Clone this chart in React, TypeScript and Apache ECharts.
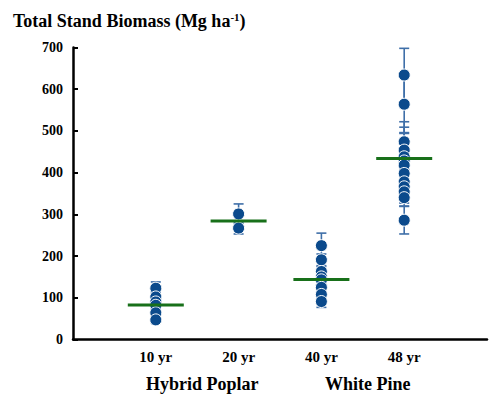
import React, { useEffect, useRef } from "react";
import * as echarts from "echarts";

const categories = ["10 yr", "20 yr", "40 yr", "48 yr"];
const groupLabels = ["Hybrid Poplar", "White Pine"];

const poplar10 = [123, 102, 90, 82, 64, 47];
const poplar10Err = [15, 10, 10, 8, 10, 8];
const poplar20 = [301, 267];
const poplar20Err = [24, 14];
const pine40 = [225, 191, 163, 150, 143, 125, 108, 91];
const pine40Err = [30, 14, 12, 12, 10, 12, 12, 14];
const pine48 = [634, 564, 474, 454, 438, 428, 418, 398, 378, 366, 354, 340, 286];
const pine48Err = [64, 70, 48, 55, 58, 20, 22, 25, 30, 30, 27, 20, 33];
const means = [83, 284, 144, 434];

const groups = [
  { v: poplar10, e: poplar10Err },
  { v: poplar20, e: poplar20Err },
  { v: pine40, e: pine40Err },
  { v: pine48, e: pine48Err },
];

const FONT = "'Liberation Serif', 'Times New Roman', serif";

export default function App() {
  const ref = useRef<HTMLDivElement>(null);
  useEffect(() => {
    if (!ref.current) return;
    const chart = echarts.init(ref.current, undefined, { renderer: "svg" });

    const points: number[][] = [];
    const bars: number[][] = [];
    groups.forEach((g, gi) => {
      g.v.forEach((v, i) => {
        points.push([gi + 1, v]);
        bars.push([gi + 1, v - g.e[i], v + g.e[i]]);
      });
    });
    const meanData = means.map((m, i) => [i + 1, m]);

    chart.setOption({
      animation: false,
      title: {
        text: "{a|Total Stand Biomass (Mg ha}{s|-1}{a|)}",
        left: 8,
        top: 6,
        textStyle: {
          rich: {
            a: { fontFamily: FONT, fontWeight: "bold", fontSize: 18, color: "#000" },
            s: { fontFamily: FONT, fontWeight: "bold", fontSize: 11, color: "#000", verticalAlign: "top", padding: [0, 0, 8, 0] },
          },
        },
      },
      grid: { left: 73, right: -3, top: 47.5, bottom: 56.5 },
      xAxis: {
        type: "value",
        min: 0,
        max: 5,
        interval: 1,
        splitLine: { show: false },
        axisTick: { show: false },
        axisLine: { lineStyle: { color: "#000", width: 2.5 } },
        axisLabel: {
          margin: 10,
          fontFamily: FONT,
          fontWeight: "bold",
          fontSize: 15,
          color: "#000",
          formatter: (v: number) => categories[v - 1] ?? "",
        },
      },
      yAxis: {
        type: "value",
        min: 0,
        max: 700,
        interval: 100,
        splitLine: { show: false },
        axisLine: { show: true, lineStyle: { color: "#000", width: 2.5 } },
        axisTick: { show: true, inside: true, length: 5, lineStyle: { color: "#000", width: 2 } },
        axisLabel: {
          margin: 10,
          fontFamily: FONT,
          fontWeight: "bold",
          fontSize: 14,
          color: "#000",
        },
      },
      graphic: [
        {
          type: "text",
          left: 204 - 58,
          top: 375,
          style: { text: groupLabels[0], font: `bold 18px ${FONT}`, fill: "#000" },
        },
        {
          type: "text",
          left: 368 - 43,
          top: 375,
          style: { text: groupLabels[1], font: `bold 18px ${FONT}`, fill: "#000" },
        },
      ],
      series: [
        {
          type: "custom",
          z: 1,
          data: bars,
          encode: { x: 0, y: [1, 2] },
          renderItem: (params: any, api: any) => {
            const x = api.value(0);
            const lo = api.coord([x, api.value(1)]);
            const hi = api.coord([x, api.value(2)]);
            const style = { stroke: "#3f6fa8", lineWidth: 1.6, fill: null };
            const h = 5;
            return {
              type: "group",
              children: [
                { type: "line", shape: { x1: lo[0], y1: lo[1], x2: hi[0], y2: hi[1] }, style },
                { type: "line", shape: { x1: lo[0] - h, y1: lo[1], x2: lo[0] + h, y2: lo[1] }, style },
                { type: "line", shape: { x1: hi[0] - h, y1: hi[1], x2: hi[0] + h, y2: hi[1] }, style },
              ],
            };
          },
        },
        {
          type: "scatter",
          z: 2,
          data: points,
          symbol: "circle",
          symbolSize: 12,
          itemStyle: { color: "#0b4a8c", borderColor: "#ffffff", borderWidth: 1, opacity: 1 },
        },
        {
          type: "custom",
          z: 3,
          data: meanData,
          encode: { x: 0, y: 1 },
          renderItem: (params: any, api: any) => {
            const p = api.coord([api.value(0), api.value(1)]);
            return {
              type: "line",
              shape: { x1: p[0] - 28, y1: p[1], x2: p[0] + 28, y2: p[1] },
              style: { stroke: "#18701a", lineWidth: 3 },
            };
          },
        },
      ],
    });
    return () => chart.dispose();
  }, []);
  return (
    <div
      ref={ref}
      style={{ position: "absolute", left: 0, top: 0, width: 490, height: 396, background: "#fff" }}
    />
  );
}
